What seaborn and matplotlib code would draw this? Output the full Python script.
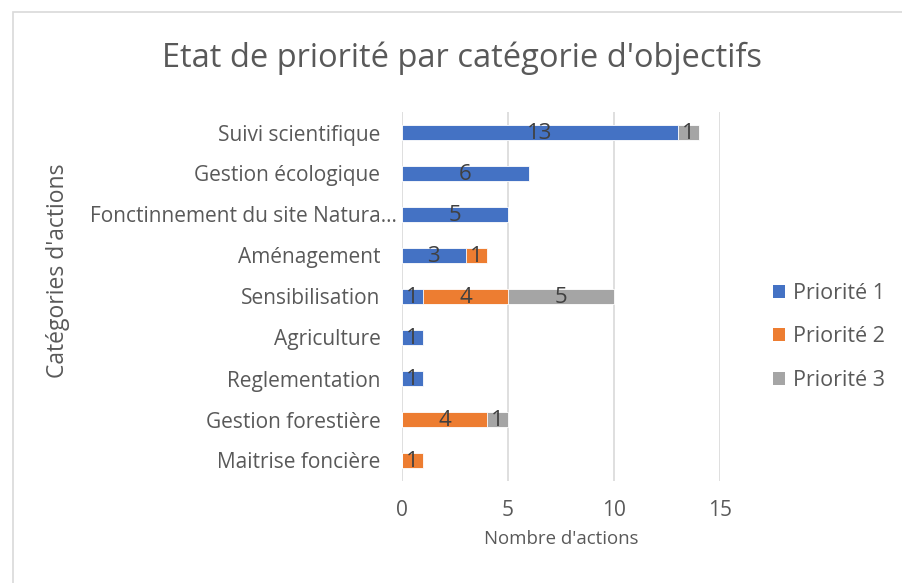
import matplotlib
matplotlib.use("Agg")
import matplotlib.pyplot as plt
from matplotlib.patches import Rectangle, Patch
import matplotlib.transforms as mtransforms
import numpy as np
import pandas as pd
import seaborn as sns

# Data
categories = [
    "Suivi scientifique",
    "Gestion écologique",
    "Fonctinnement du site Natura…",
    "Aménagement",
    "Sensibilisation",
    "Agriculture",
    "Reglementation",
    "Gestion forestière",
    "Maitrise foncière",
]
priorite_1 = [13, 6, 5, 3, 1, 1, 1, 0, 0]
priorite_2 = [0, 0, 0, 1, 4, 0, 0, 4, 1]
priorite_3 = [1, 0, 0, 0, 5, 0, 0, 1, 0]
series_names = ["Priorité 1", "Priorité 2", "Priorité 3"]
colors = ["#4472C4", "#ED7D31", "#A5A5A5"]
x_ticks = [0, 5, 10, 15]

text_color = "#595959"

sns.set_theme(style="white")
plt.rcParams["font.family"] = ["Open Sans", "DejaVu Sans"]

df = pd.DataFrame({
    "categorie": categories,
    "p1": priorite_1,
    "p2": priorite_2,
    "p3": priorite_3,
})
df["c1"] = df["p1"]
df["c2"] = df["p1"] + df["p2"]
df["c3"] = df["p1"] + df["p2"] + df["p3"]

fig = plt.figure(figsize=(9.02, 5.83), dpi=100)
ax = fig.add_axes([402 / 902, 1 - 481 / 583, (720 - 402) / 902, (481 - 112) / 583])

# frame around the chart
fig.patches.append(Rectangle((12.5 / 902, -0.1), 1.2, 1 - 12.5 / 583 + 0.1,
                             transform=fig.transFigure, fill=False,
                             edgecolor="#D9D9D9", linewidth=1.2))

# stacked bars: draw cumulative totals from back to front
for col, color in zip(["c3", "c2", "c1"], colors[::-1]):
    sns.barplot(data=df, x=col, y="categorie", color=color, width=0.39,
                orient="h", ax=ax, edgecolor="white", linewidth=0.6,
                saturation=1)

# segment labels
for i in range(len(categories)):
    left = 0
    for val in [priorite_1[i], priorite_2[i], priorite_3[i]]:
        if val > 0:
            ax.text(left + val / 2, i + 0.03, str(val), ha="center", va="center",
                    fontsize=16, color="#404040")
        left += val

ax.set_xlim(0, 15)
ax.set_ylim(len(categories) - 0.5, -0.5)
ax.set_xticks(x_ticks)
ax.set_xticklabels([str(t) for t in x_ticks], fontsize=15, color=text_color)
ax.tick_params(axis="x", length=0, pad=14)
ax.tick_params(axis="y", length=0, pad=15.5, labelsize=15, labelcolor=text_color)
ax.grid(axis="x", color="#D9D9D9", linewidth=1.2)
ax.set_axisbelow(True)
for s in ax.spines.values():
    s.set_visible(False)

# the truncated label sticks out a little further, as in the source
for lab in ax.get_yticklabels():
    if lab.get_text().endswith("…"):
        lab.set_transform(lab.get_transform() +
                          mtransforms.ScaledTranslation(16 / 100, 0, fig.dpi_scale_trans))

ax.set_xlabel("Nombre d'actions", fontsize=13.4, color=text_color, labelpad=6)
ax.set_ylabel("")
fig.text(58 / 902, 1 - 271 / 583, "Catégories d'actions", rotation=90,
         ha="center", va="center", fontsize=16.5, color=text_color)

fig.text(462 / 902, 1 - 58 / 583, "Etat de priorité par catégorie d'objectifs",
         ha="center", va="center", fontsize=23.5, color=text_color)

handles = [Patch(facecolor=c, edgecolor="none") for c in colors]
leg = fig.legend(handles, series_names, loc="center left",
                 bbox_to_anchor=(754 / 902, 1 - 337 / 583), frameon=False,
                 fontsize=15.5, labelspacing=1.05, handlelength=0.55,
                 handleheight=0.55, handletextpad=0.35)
for t in leg.get_texts():
    t.set_color(text_color)

fig.savefig("out.png", dpi=100)
